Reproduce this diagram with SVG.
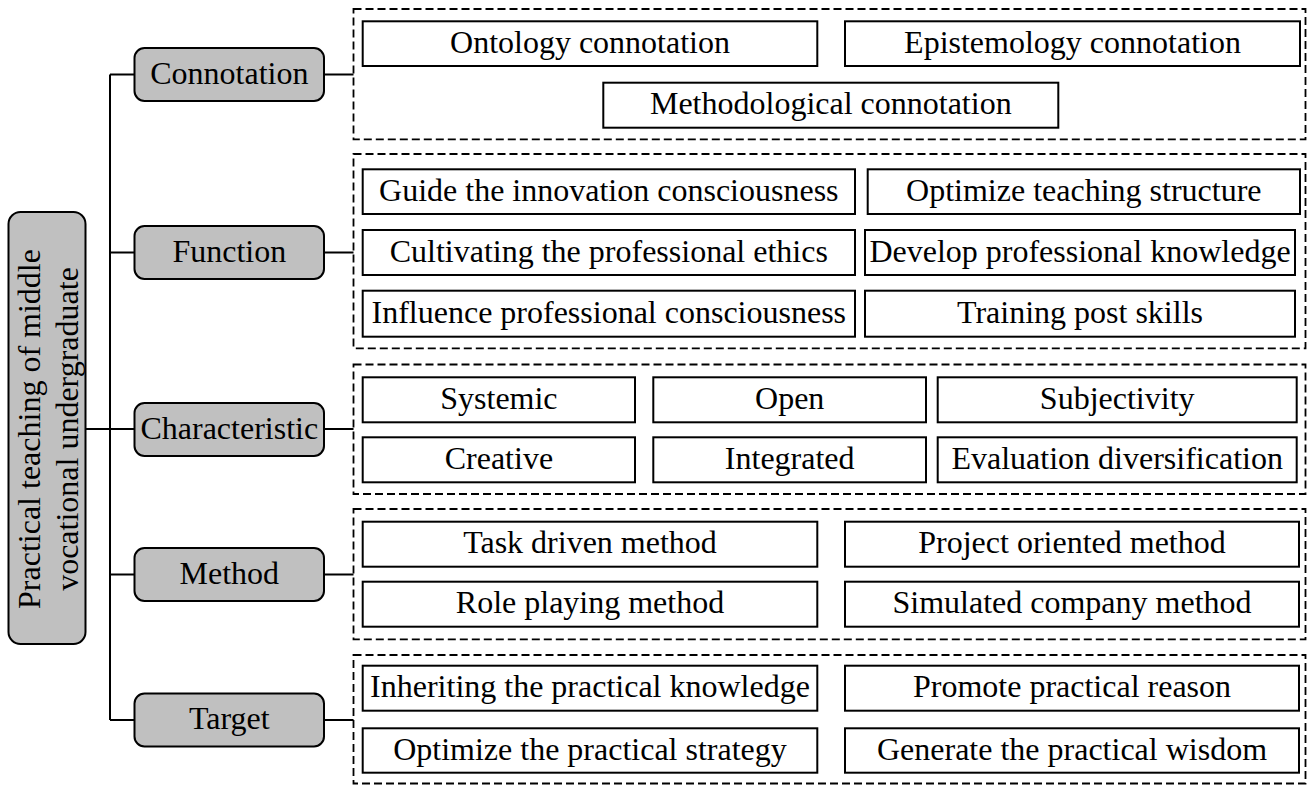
<svg xmlns="http://www.w3.org/2000/svg" width="1310" height="785" viewBox="0 0 1310 785">
<style>
text{font-family:"Liberation Serif","Times New Roman",serif;font-size:32px;fill:#000;text-anchor:middle}
.node{fill:#c0c0c0;stroke:#000;stroke-width:2}
.box{fill:#fff;stroke:#000;stroke-width:2}
.grp{fill:none;stroke:#000;stroke-width:1.8;stroke-dasharray:8 4}
.conn{fill:none;stroke:#000;stroke-width:2}
</style>
<rect width="1310" height="785" fill="#fff"/>
<g id="connectors">
<path class="conn" d="M110,74.5 V720"/>
<path class="conn" d="M86,429 H110" stroke-width="3"/>
<path class="conn" d="M110,74.5 H134.5 M110,252.5 H134.5 M110,429 H134.5 M110,574.5 H134.5 M110,720 H134.5"/>
<path class="conn" d="M324,74.5 H353.5 M324,252.5 H353.5 M324,429 H353.5 M324,574.5 H353.5 M324,720 H353.5"/>
</g>
<g id="root">
<rect class="node" x="8.5" y="212" width="77" height="432" rx="12"/>
<text transform="translate(40,429) rotate(-90)">Practical teaching of middle</text>
<text transform="translate(77.5,429) rotate(-90)">vocational undergraduate</text>
</g>
<g id="connotation">
<rect class="node" x="134.5" y="48" width="189.5" height="53" rx="10"/>
<text x="229.3" y="83.5">Connotation</text>
</g>
<g id="function">
<rect class="node" x="134.5" y="226" width="189.5" height="53" rx="10"/>
<text x="229.3" y="261.5">Function</text>
</g>
<g id="characteristic">
<rect class="node" x="134.5" y="403" width="189.5" height="53" rx="10"/>
<text x="229.3" y="438.5">Characteristic</text>
</g>
<g id="method">
<rect class="node" x="134.5" y="548" width="189.5" height="53" rx="10"/>
<text x="229.3" y="583.5">Method</text>
</g>
<g id="target">
<rect class="node" x="134.5" y="693.5" width="189.5" height="53" rx="10"/>
<text x="229.3" y="729">Target</text>
</g>
<g id="connotation-group">
<rect class="grp" x="353.5" y="9" width="952" height="130.3"/>
<rect class="box" x="362.7" y="21.3" width="454.6" height="44.7"/>
<text x="590" y="52.5">Ontology connotation</text>
<rect class="box" x="845" y="21.3" width="455" height="44.7"/>
<text x="1072.5" y="52.5">Epistemology connotation</text>
<rect class="box" x="603.3" y="82.7" width="455" height="45"/>
<text x="830.8" y="114">Methodological connotation</text>
</g>
<g id="function-group">
<rect class="grp" x="353.5" y="154" width="952" height="194.3"/>
<rect class="box" x="362.7" y="169.3" width="492.3" height="44.7"/>
<text x="608.8" y="200.5">Guide the innovation consciousness</text>
<rect class="box" x="867.7" y="169.3" width="432.3" height="44.7"/>
<text x="1083.8" y="200.5">Optimize teaching structure</text>
<rect class="box" x="362.7" y="230" width="492.3" height="45"/>
<text x="608.8" y="261.5">Cultivating the professional ethics</text>
<rect class="box" x="865" y="230" width="430" height="45"/>
<text x="1080" y="261.5">Develop professional knowledge</text>
<rect class="box" x="362.7" y="290.7" width="492.3" height="46"/>
<text x="608.8" y="322.5">Influence professional consciousness</text>
<rect class="box" x="865" y="290.7" width="430" height="46"/>
<text x="1080" y="322.5">Training post skills</text>
</g>
<g id="characteristic-group">
<rect class="grp" x="353.5" y="364.5" width="952" height="129.5"/>
<rect class="box" x="362.7" y="377.3" width="272.3" height="45"/>
<text x="498.9" y="408.5">Systemic</text>
<rect class="box" x="653.3" y="377.3" width="272.7" height="45"/>
<text x="789.7" y="408.5">Open</text>
<rect class="box" x="937.7" y="377.3" width="359" height="45"/>
<text x="1117.2" y="408.5">Subjectivity</text>
<rect class="box" x="362.7" y="437.3" width="272.3" height="45"/>
<text x="498.9" y="468.5">Creative</text>
<rect class="box" x="653.3" y="437.3" width="272.7" height="45"/>
<text x="789.7" y="468.5">Integrated</text>
<rect class="box" x="937.7" y="437.3" width="359" height="45"/>
<text x="1117.2" y="468.5">Evaluation diversification</text>
</g>
<g id="method-group">
<rect class="grp" x="353.5" y="509" width="952" height="130.3"/>
<rect class="box" x="362.7" y="521.7" width="454.6" height="45"/>
<text x="590" y="553">Task driven method</text>
<rect class="box" x="845" y="521.7" width="454" height="45"/>
<text x="1072" y="553">Project oriented method</text>
<rect class="box" x="362.7" y="581.7" width="454.6" height="45"/>
<text x="590" y="613">Role playing method</text>
<rect class="box" x="845" y="581.7" width="454" height="45"/>
<text x="1072" y="613">Simulated company method</text>
</g>
<g id="target-group">
<rect class="grp" x="353.5" y="655" width="952" height="128.5"/>
<rect class="box" x="362.7" y="665.7" width="454.6" height="45"/>
<text x="590" y="697">Inheriting the practical knowledge</text>
<rect class="box" x="845" y="665.7" width="454" height="45"/>
<text x="1072" y="697">Promote practical reason</text>
<rect class="box" x="362.7" y="728.3" width="454.6" height="44.4"/>
<text x="590" y="759.5">Optimize the practical strategy</text>
<rect class="box" x="845" y="728.3" width="454" height="44.4"/>
<text x="1072" y="759.5">Generate the practical wisdom</text>
</g>
</svg>
